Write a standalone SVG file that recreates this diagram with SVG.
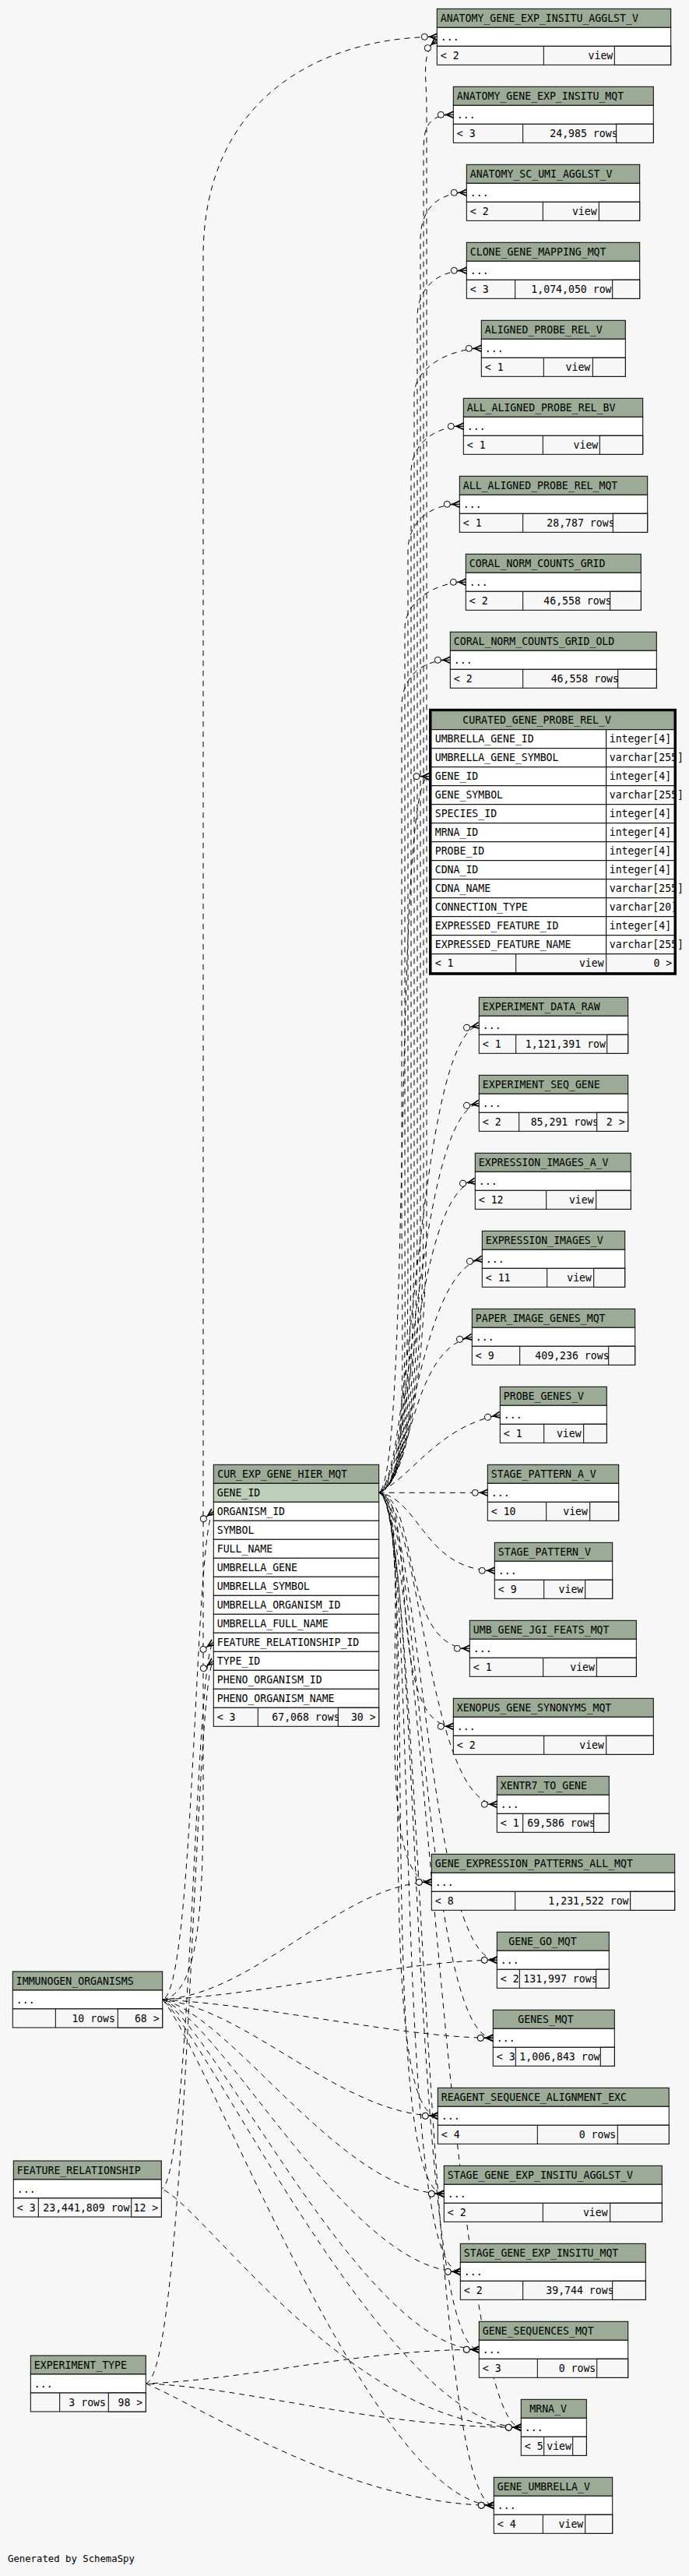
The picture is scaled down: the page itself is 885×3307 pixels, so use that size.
<svg xmlns="http://www.w3.org/2000/svg" width="885" height="3307" viewBox="0 0 885 3307">
<style>
.t{font-family:"DejaVu Sans Mono","Liberation Mono",monospace;font-size:13.2px;fill:#000}
.e{text-anchor:end}
.h{fill:#9bab96;stroke:#000;stroke-width:1}
.b{fill:#fff;stroke:#000;stroke-width:1}
.k{fill:#bed1b8;stroke:#000;stroke-width:1}
.f{fill:#f7f7f7;stroke:#000;stroke-width:1}
.l{stroke:#000;stroke-width:1}
.c path{fill:none;stroke:#000;stroke-width:1;stroke-dasharray:7,6;marker-end:url(#cf)}
.c path:nth-child(3n){stroke-dashoffset:4}
.c path:nth-child(3n+1){stroke-dashoffset:9}
</style>
<defs>
<marker id="cf" markerUnits="userSpaceOnUse" markerWidth="24" markerHeight="14" viewBox="-22 -7 24 14" refX="0" refY="0" orient="auto" overflow="visible">
<path d="M-12,0 L0,0" stroke="#000" stroke-width="1.2" fill="none"/>
<path d="M0,-5 L-11,0 L0,5 L0,3 L-7,0 L0,-3 Z" fill="#000"/>
<circle cx="-16" cy="0" r="4" fill="#f7f7f7" stroke="#000" stroke-width="1"/>
</marker>
</defs>
<rect x="0" y="0" width="885" height="3307" fill="#f7f7f7"/>

<g id="connectors" class="c">
<path d="M486.7,1916.3 C525,1905 548,1750 548,1550 L548,140 C548,95 540,70 561.3,51"/>
<path d="M486.7,1916.3 C525,1905 544,1750 544,1550 L544,207 C544,172 542.3,147.3 582.3,147.3"/>
<path d="M486.7,1916.3 C525,1905 540,1750 540,1550 L540,307 C540,272 559.3,247.3 599.3,247.3"/>
<path d="M486.7,1916.3 C525,1905 536,1750 536,1550 L536,407 C536,372 559.3,347.3 599.3,347.3"/>
<path d="M486.7,1916.3 C525,1905 532,1750 532,1550 L532,507 C532,472 578.3,447.3 618.3,447.3"/>
<path d="M486.7,1916.3 C525,1905 528,1750 528,1550 L528,607 C528,572 555.3,547.3 595.3,547.3"/>
<path d="M486.7,1916.3 C525,1905 524,1750 524,1550 L524,707 C524,672 550.3,647.3 590.3,647.3"/>
<path d="M486.7,1916.3 C525,1905 520,1750 520,1550 L520,807 C520,772 558.3,747.3 598.3,747.3"/>
<path d="M486.7,1916.3 C525,1905 516,1750 516,1550 L516,907 C516,872 538.3,847.3 578.3,847.3"/>
<path d="M486.7,1916.3 C528,1890 505,996.7 551,996.7"/>
<path d="M486.7,1916.3 C530,1895 535.3,1331.3 615.3,1316.3"/>
<path d="M486.7,1916.3 C530,1895 535.3,1431.3 615.3,1416.3"/>
<path d="M486.7,1916.3 C530,1895 530.3,1531.3 610.3,1516.3"/>
<path d="M486.7,1916.3 C530,1895 539.3,1631.3 619.3,1616.3"/>
<path d="M486.7,1916.3 C530,1895 526.3,1731.3 606.3,1716.3"/>
<path d="M486.7,1916.3 C530,1895 562.3,1831.3 642.3,1816.3"/>
<path d="M486.7,1916.3 L626.3,1916.3"/>
<path d="M486.7,1916.3 C540,1925 545.3,2016.3 635.3,2016.3"/>
<path d="M486.7,1916.3 C540,1925 513.3,2116.3 603.3,2116.3"/>
<path d="M486.7,1916.3 C540,1925 492.3,2216.3 582.3,2216.3"/>
<path d="M486.7,1916.3 C540,1925 548.3,2316.3 638.3,2316.3"/>
<path d="M486.7,1916.3 C540,1925 464.3,2416.3 554.3,2416.3"/>
<path d="M486.7,1916.3 C540,1925 548.3,2516.3 638.3,2516.3"/>
<path d="M486.7,1916.3 C540,1925 543.3,2616.3 633.3,2616.3"/>
<path d="M486.7,1916.3 C540,1925 472.3,2716.3 562.3,2716.3"/>
<path d="M486.7,1916.3 C540,1925 480.3,2816.3 570.3,2816.3"/>
<path d="M486.7,1916.3 C540,1925 501.3,2916.3 591.3,2916.3"/>
<path d="M486.7,1916.3 C540,1925 525.3,3016.3 615.3,3016.3"/>
<path d="M486.7,1916.3 C540,1925 579.3,3116.3 669.3,3116.3"/>
<path d="M486.7,1916.3 C540,1925 544.3,3216.3 634.3,3216.3"/>
<path d="M208.7,2567 C250,2560 250,1958 274.3,1940.3"/>
<path d="M208.7,2567 C255,2560 261,2450 261,2300 L261,330 C261,120 420,47.3 561.3,47.3"/>
<path d="M208.7,2567 C330,2560 440,2416.3 554.3,2416.3"/>
<path d="M208.7,2567 C350,2560 520,2516.3 638.3,2516.3"/>
<path d="M208.7,2567 C350,2575 520,2616.3 633.3,2616.3"/>
<path d="M208.7,2567 C320,2580 440,2716.3 562.3,2716.3"/>
<path d="M208.7,2567 C300,2590 440,2816.3 570.3,2816.3"/>
<path d="M208.7,2567 C290,2600 450,2916.3 591.3,2916.3"/>
<path d="M208.7,2567 C280,2610 470,3016.3 615.3,3016.3"/>
<path d="M208.7,2567 C270,2620 500,3116.3 669.3,3116.3"/>
<path d="M208.7,2567 C265,2630 480,3216.3 634.3,3216.3"/>
<path d="M207.3,2810 C245,2800 250,2125 274.3,2108.3"/>
<path d="M207.3,2810 C260,2830 450,3116.3 669.3,3116.3"/>
<path d="M187.3,3060 C240,3050 250,2150 274.3,2132.3"/>
<path d="M187.3,3060 C320,3055 460,3016.3 615.3,3016.3"/>
<path d="M187.3,3060 C320,3065 480,3116.3 669.3,3116.3"/>
<path d="M187.3,3060 C260,3090 450,3216.3 634.3,3216.3"/>
</g>

<g id="ANATOMY_GENE_EXP_INSITU_AGGLST_V">
<rect class="h" x="561.3" y="11.3" width="300.4" height="24"/><text class="t" x="565.8" y="27.8">ANATOMY_GENE_EXP_INSITU_AGGLST_V</text>
<rect class="b" x="561.3" y="35.3" width="300.4" height="24"/><text class="t" x="565.8" y="51.8">...</text>
<rect class="f" x="561.3" y="59.3" width="300.4" height="24"/><line class="l" x1="698.3" y1="59.3" x2="698.3" y2="83.3"/>
<text class="t" x="565.8" y="75.8">&lt; 2</text><text class="t e" x="787.3" y="75.8">view</text>
<rect class="f" x="789.3" y="59.3" width="72.4" height="24"/>
</g>
<g id="ANATOMY_GENE_EXP_INSITU_MQT">
<rect class="h" x="582.3" y="111.3" width="257" height="24"/><text class="t" x="586.8" y="127.8">ANATOMY_GENE_EXP_INSITU_MQT</text>
<rect class="b" x="582.3" y="135.3" width="257" height="24"/><text class="t" x="586.8" y="151.8">...</text>
<rect class="f" x="582.3" y="159.3" width="257" height="24"/><line class="l" x1="671.7" y1="159.3" x2="671.7" y2="183.3"/>
<text class="t" x="586.8" y="175.8">&lt; 3</text><text class="t e" x="793.6" y="175.8">24,985 rows</text>
<rect class="f" x="791.7" y="159.3" width="47.6" height="24"/>
</g>
<g id="ANATOMY_SC_UMI_AGGLST_V">
<rect class="h" x="599.3" y="211.3" width="222.4" height="24"/><text class="t" x="603.8" y="227.8">ANATOMY_SC_UMI_AGGLST_V</text>
<rect class="b" x="599.3" y="235.3" width="222.4" height="24"/><text class="t" x="603.8" y="251.8">...</text>
<rect class="f" x="599.3" y="259.3" width="222.4" height="24"/><line class="l" x1="697.3" y1="259.3" x2="697.3" y2="283.3"/>
<text class="t" x="603.8" y="275.8">&lt; 2</text><text class="t e" x="766.7" y="275.8">view</text>
<rect class="f" x="769.3" y="259.3" width="52.4" height="24"/>
</g>
<g id="CLONE_GENE_MAPPING_MQT">
<rect class="h" x="599.3" y="311.3" width="222.4" height="24"/><text class="t" x="603.8" y="327.8">CLONE_GENE_MAPPING_MQT</text>
<rect class="b" x="599.3" y="335.3" width="222.4" height="24"/><text class="t" x="603.8" y="351.8">...</text>
<rect class="f" x="599.3" y="359.3" width="222.4" height="24"/><line class="l" x1="661.7" y1="359.3" x2="661.7" y2="383.3"/>
<text class="t" x="603.8" y="375.8">&lt; 3</text><text class="t e" x="793.5" y="375.8">1,074,050 rows</text>
<rect class="f" x="786.7" y="359.3" width="35" height="24"/>
</g>
<g id="ALIGNED_PROBE_REL_V">
<rect class="h" x="618.3" y="411.3" width="185" height="24"/><text class="t" x="622.8" y="427.8">ALIGNED_PROBE_REL_V</text>
<rect class="b" x="618.3" y="435.3" width="185" height="24"/><text class="t" x="622.8" y="451.8">...</text>
<rect class="f" x="618.3" y="459.3" width="185" height="24"/><line class="l" x1="698.3" y1="459.3" x2="698.3" y2="483.3"/>
<text class="t" x="622.8" y="475.8">&lt; 1</text><text class="t e" x="758.3" y="475.8">view</text>
<rect class="f" x="761.3" y="459.3" width="42" height="24"/>
</g>
<g id="ALL_ALIGNED_PROBE_REL_BV">
<rect class="h" x="595.3" y="511.3" width="230.4" height="24"/><text class="t" x="599.8" y="527.8">ALL_ALIGNED_PROBE_REL_BV</text>
<rect class="b" x="595.3" y="535.3" width="230.4" height="24"/><text class="t" x="599.8" y="551.8">...</text>
<rect class="f" x="595.3" y="559.3" width="230.4" height="24"/><line class="l" x1="697.3" y1="559.3" x2="697.3" y2="583.3"/>
<text class="t" x="599.8" y="575.8">&lt; 1</text><text class="t e" x="768.3" y="575.8">view</text>
<rect class="f" x="770.3" y="559.3" width="55.4" height="24"/>
</g>
<g id="ALL_ALIGNED_PROBE_REL_MQT">
<rect class="h" x="590.3" y="611.3" width="241.4" height="24"/><text class="t" x="594.8" y="627.8">ALL_ALIGNED_PROBE_REL_MQT</text>
<rect class="b" x="590.3" y="635.3" width="241.4" height="24"/><text class="t" x="594.8" y="651.8">...</text>
<rect class="f" x="590.3" y="659.3" width="241.4" height="24"/><line class="l" x1="671.7" y1="659.3" x2="671.7" y2="683.3"/>
<text class="t" x="594.8" y="675.8">&lt; 1</text><text class="t e" x="789.6" y="675.8">28,787 rows</text>
<rect class="f" x="787.3" y="659.3" width="44.4" height="24"/>
</g>
<g id="CORAL_NORM_COUNTS_GRID">
<rect class="h" x="598.3" y="711.3" width="225" height="24"/><text class="t" x="602.8" y="727.8">CORAL_NORM_COUNTS_GRID</text>
<rect class="b" x="598.3" y="735.3" width="225" height="24"/><text class="t" x="602.8" y="751.8">...</text>
<rect class="f" x="598.3" y="759.3" width="225" height="24"/><line class="l" x1="671.7" y1="759.3" x2="671.7" y2="783.3"/>
<text class="t" x="602.8" y="775.8">&lt; 2</text><text class="t e" x="785.6" y="775.8">46,558 rows</text>
<rect class="f" x="783.7" y="759.3" width="39.6" height="24"/>
</g>
<g id="CORAL_NORM_COUNTS_GRID_OLD">
<rect class="h" x="578.3" y="811.3" width="265" height="24"/><text class="t" x="582.8" y="827.8">CORAL_NORM_COUNTS_GRID_OLD</text>
<rect class="b" x="578.3" y="835.3" width="265" height="24"/><text class="t" x="582.8" y="851.8">...</text>
<rect class="f" x="578.3" y="859.3" width="265" height="24"/><line class="l" x1="671.7" y1="859.3" x2="671.7" y2="883.3"/>
<text class="t" x="582.8" y="875.8">&lt; 2</text><text class="t e" x="795" y="875.8">46,558 rows</text>
<rect class="f" x="793.7" y="859.3" width="49.6" height="24"/>
</g>

<g id="CURATED_GENE_PROBE_REL_V">
<rect class="h" x="554" y="912.7" width="312" height="24"/><text class="t" x="594.3" y="929.2">CURATED_GENE_PROBE_REL_V</text>
<rect class="b" x="554" y="936.7" width="224.7" height="24"/><rect class="b" x="778.7" y="936.7" width="87.3" height="24"/>
<rect class="b" x="554" y="960.7" width="224.7" height="24"/><rect class="b" x="778.7" y="960.7" width="87.3" height="24"/>
<rect class="b" x="554" y="984.7" width="224.7" height="24"/><rect class="b" x="778.7" y="984.7" width="87.3" height="24"/>
<rect class="b" x="554" y="1008.7" width="224.7" height="24"/><rect class="b" x="778.7" y="1008.7" width="87.3" height="24"/>
<rect class="b" x="554" y="1032.7" width="224.7" height="24"/><rect class="b" x="778.7" y="1032.7" width="87.3" height="24"/>
<rect class="b" x="554" y="1056.7" width="224.7" height="24"/><rect class="b" x="778.7" y="1056.7" width="87.3" height="24"/>
<rect class="b" x="554" y="1080.7" width="224.7" height="24"/><rect class="b" x="778.7" y="1080.7" width="87.3" height="24"/>
<rect class="b" x="554" y="1104.7" width="224.7" height="24"/><rect class="b" x="778.7" y="1104.7" width="87.3" height="24"/>
<rect class="b" x="554" y="1128.7" width="224.7" height="24"/><rect class="b" x="778.7" y="1128.7" width="87.3" height="24"/>
<rect class="b" x="554" y="1152.7" width="224.7" height="24"/><rect class="b" x="778.7" y="1152.7" width="87.3" height="24"/>
<rect class="b" x="554" y="1176.7" width="224.7" height="24"/><rect class="b" x="778.7" y="1176.7" width="87.3" height="24"/>
<rect class="b" x="554" y="1200.7" width="224.7" height="24"/><rect class="b" x="778.7" y="1200.7" width="87.3" height="24"/>
<text class="t" x="558.7" y="953.2">UMBRELLA_GENE_ID</text><text class="t" x="782.7" y="953.2">integer[4]</text>
<text class="t" x="558.7" y="977.2">UMBRELLA_GENE_SYMBOL</text><text class="t" x="782.7" y="977.2">varchar[255]</text>
<text class="t" x="558.7" y="1001.2">GENE_ID</text><text class="t" x="782.7" y="1001.2">integer[4]</text>
<text class="t" x="558.7" y="1025.2">GENE_SYMBOL</text><text class="t" x="782.7" y="1025.2">varchar[255]</text>
<text class="t" x="558.7" y="1049.2">SPECIES_ID</text><text class="t" x="782.7" y="1049.2">integer[4]</text>
<text class="t" x="558.7" y="1073.2">MRNA_ID</text><text class="t" x="782.7" y="1073.2">integer[4]</text>
<text class="t" x="558.7" y="1097.2">PROBE_ID</text><text class="t" x="782.7" y="1097.2">integer[4]</text>
<text class="t" x="558.7" y="1121.2">CDNA_ID</text><text class="t" x="782.7" y="1121.2">integer[4]</text>
<text class="t" x="558.7" y="1145.2">CDNA_NAME</text><text class="t" x="782.7" y="1145.2">varchar[255]</text>
<text class="t" x="558.7" y="1169.2">CONNECTION_TYPE</text><text class="t" x="782.7" y="1169.2">varchar[20]</text>
<text class="t" x="558.7" y="1193.2">EXPRESSED_FEATURE_ID</text><text class="t" x="782.7" y="1193.2">integer[4]</text>
<text class="t" x="558.7" y="1217.2">EXPRESSED_FEATURE_NAME</text><text class="t" x="782.7" y="1217.2">varchar[255]</text>
<rect class="f" x="554" y="1224.7" width="312" height="24"/>
<line class="l" x1="662.7" y1="1224.7" x2="662.7" y2="1248.7"/><line class="l" x1="778.7" y1="1224.7" x2="778.7" y2="1248.7"/>
<text class="t" x="558.7" y="1241.2">&lt; 1</text><text class="t e" x="775.7" y="1241.2">view</text><text class="t e" x="863.3" y="1241.2">0 &gt;</text>
<rect x="552.5" y="911.3" width="315" height="339" fill="none" stroke="#000" stroke-width="3"/>
</g>

<g id="EXPERIMENT_DATA_RAW">
<rect class="h" x="615.3" y="1280.3" width="191.4" height="24"/><text class="t" x="619.8" y="1296.8">EXPERIMENT_DATA_RAW</text>
<rect class="b" x="615.3" y="1304.3" width="191.4" height="24"/><text class="t" x="619.8" y="1320.8">...</text>
<rect class="f" x="615.3" y="1328.3" width="191.4" height="24"/><line class="l" x1="662.7" y1="1328.3" x2="662.7" y2="1352.3"/>
<text class="t" x="619.8" y="1344.8">&lt; 1</text><text class="t e" x="785.9" y="1344.8">1,121,391 rows</text>
<rect class="f" x="779.7" y="1328.3" width="27" height="24"/>
</g>
<g id="EXPERIMENT_SEQ_GENE">
<rect class="h" x="615.3" y="1380.3" width="191.4" height="24"/><text class="t" x="619.8" y="1396.8">EXPERIMENT_SEQ_GENE</text>
<rect class="b" x="615.3" y="1404.3" width="191.4" height="24"/><text class="t" x="619.8" y="1420.8">...</text>
<rect class="f" x="615.3" y="1428.3" width="191.4" height="24"/><line class="l" x1="666.7" y1="1428.3" x2="666.7" y2="1452.3"/>
<text class="t" x="619.8" y="1444.8">&lt; 2</text><text class="t e" x="769" y="1444.8">85,291 rows</text>
<rect class="f" x="766.7" y="1428.3" width="40" height="24"/><text class="t e" x="802.7" y="1444.8">2 &gt;</text>
</g>
<g id="EXPRESSION_IMAGES_A_V">
<rect class="h" x="610.3" y="1480.3" width="200" height="24"/><text class="t" x="614.8" y="1496.8">EXPRESSION_IMAGES_A_V</text>
<rect class="b" x="610.3" y="1504.3" width="200" height="24"/><text class="t" x="614.8" y="1520.8">...</text>
<rect class="f" x="610.3" y="1528.3" width="200" height="24"/><line class="l" x1="701.7" y1="1528.3" x2="701.7" y2="1552.3"/>
<text class="t" x="614.8" y="1544.8">&lt; 12</text><text class="t e" x="762.7" y="1544.8">view</text>
<rect class="f" x="765.7" y="1528.3" width="44.6" height="24"/>
</g>
<g id="EXPRESSION_IMAGES_V">
<rect class="h" x="619.3" y="1580.3" width="183.4" height="24"/><text class="t" x="623.8" y="1596.8">EXPRESSION_IMAGES_V</text>
<rect class="b" x="619.3" y="1604.3" width="183.4" height="24"/><text class="t" x="623.8" y="1620.8">...</text>
<rect class="f" x="619.3" y="1628.3" width="183.4" height="24"/><line class="l" x1="702.7" y1="1628.3" x2="702.7" y2="1652.3"/>
<text class="t" x="623.8" y="1644.8">&lt; 11</text><text class="t e" x="760" y="1644.8">view</text>
<rect class="f" x="762.7" y="1628.3" width="40" height="24"/>
</g>
<g id="PAPER_IMAGE_GENES_MQT">
<rect class="h" x="606.3" y="1680.3" width="209.4" height="24"/><text class="t" x="610.8" y="1696.8">PAPER_IMAGE_GENES_MQT</text>
<rect class="b" x="606.3" y="1704.3" width="209.4" height="24"/><text class="t" x="610.8" y="1720.8">...</text>
<rect class="f" x="606.3" y="1728.3" width="209.4" height="24"/><line class="l" x1="667.7" y1="1728.3" x2="667.7" y2="1752.3"/>
<text class="t" x="610.8" y="1744.8">&lt; 9</text><text class="t e" x="782.6" y="1744.8">409,236 rows</text>
<rect class="f" x="781.7" y="1728.3" width="34" height="24"/>
</g>
<g id="PROBE_GENES_V">
<rect class="h" x="642.3" y="1780.3" width="137" height="24"/><text class="t" x="646.8" y="1796.8">PROBE_GENES_V</text>
<rect class="b" x="642.3" y="1804.3" width="137" height="24"/><text class="t" x="646.8" y="1820.8">...</text>
<rect class="f" x="642.3" y="1828.3" width="137" height="24"/><line class="l" x1="698.7" y1="1828.3" x2="698.7" y2="1852.3"/>
<text class="t" x="646.8" y="1844.8">&lt; 1</text><text class="t e" x="746.7" y="1844.8">view</text>
<rect class="f" x="749.7" y="1828.3" width="29.6" height="24"/>
</g>
<g id="STAGE_PATTERN_A_V">
<rect class="h" x="626.3" y="1880.3" width="168.4" height="24"/><text class="t" x="630.8" y="1896.8">STAGE_PATTERN_A_V</text>
<rect class="b" x="626.3" y="1904.3" width="168.4" height="24"/><text class="t" x="630.8" y="1920.8">...</text>
<rect class="f" x="626.3" y="1928.3" width="168.4" height="24"/><line class="l" x1="701.7" y1="1928.3" x2="701.7" y2="1952.3"/>
<text class="t" x="630.8" y="1944.8">&lt; 10</text><text class="t e" x="755" y="1944.8">view</text>
<rect class="f" x="757.7" y="1928.3" width="37" height="24"/>
</g>
<g id="STAGE_PATTERN_V">
<rect class="h" x="635.3" y="1980.3" width="151.4" height="24"/><text class="t" x="639.8" y="1996.8">STAGE_PATTERN_V</text>
<rect class="b" x="635.3" y="2004.3" width="151.4" height="24"/><text class="t" x="639.8" y="2020.8">...</text>
<rect class="f" x="635.3" y="2028.3" width="151.4" height="24"/><line class="l" x1="698.7" y1="2028.3" x2="698.7" y2="2052.3"/>
<text class="t" x="639.8" y="2044.8">&lt; 9</text><text class="t e" x="749.3" y="2044.8">view</text>
<rect class="f" x="751.7" y="2028.3" width="35" height="24"/>
</g>
<g id="UMB_GENE_JGI_FEATS_MQT">
<rect class="h" x="603.3" y="2080.3" width="214" height="24"/><text class="t" x="607.8" y="2096.8">UMB_GENE_JGI_FEATS_MQT</text>
<rect class="b" x="603.3" y="2104.3" width="214" height="24"/><text class="t" x="607.8" y="2120.8">...</text>
<rect class="f" x="603.3" y="2128.3" width="214" height="24"/><line class="l" x1="697.7" y1="2128.3" x2="697.7" y2="2152.3"/>
<text class="t" x="607.8" y="2144.8">&lt; 1</text><text class="t e" x="764" y="2144.8">view</text>
<rect class="f" x="766.3" y="2128.3" width="51" height="24"/>
</g>
<g id="XENOPUS_GENE_SYNONYMS_MQT">
<rect class="h" x="582.3" y="2180.3" width="257" height="24"/><text class="t" x="586.8" y="2196.8">XENOPUS_GENE_SYNONYMS_MQT</text>
<rect class="b" x="582.3" y="2204.3" width="257" height="24"/><text class="t" x="586.8" y="2220.8">...</text>
<rect class="f" x="582.3" y="2228.3" width="257" height="24"/><line class="l" x1="698.7" y1="2228.3" x2="698.7" y2="2252.3"/>
<text class="t" x="586.8" y="2244.8">&lt; 2</text><text class="t e" x="776" y="2244.8">view</text>
<rect class="f" x="778.7" y="2228.3" width="60.6" height="24"/>
</g>
<g id="XENTR7_TO_GENE">
<rect class="h" x="638.3" y="2280.3" width="144" height="24"/><text class="t" x="642.8" y="2296.8">XENTR7_TO_GENE</text>
<rect class="b" x="638.3" y="2304.3" width="144" height="24"/><text class="t" x="642.8" y="2320.8">...</text>
<rect class="f" x="638.3" y="2328.3" width="144" height="24"/><line class="l" x1="671.7" y1="2328.3" x2="671.7" y2="2352.3"/>
<text class="t" x="642.8" y="2344.8">&lt; 1</text><text class="t e" x="764.6" y="2344.8">69,586 rows</text>
<rect class="f" x="762.7" y="2328.3" width="19.6" height="24"/>
</g>
<g id="GENE_EXPRESSION_PATTERNS_ALL_MQT">
<rect class="h" x="554.3" y="2380.3" width="312.4" height="24"/><text class="t" x="558.8" y="2396.8">GENE_EXPRESSION_PATTERNS_ALL_MQT</text>
<rect class="b" x="554.3" y="2404.3" width="312.4" height="24"/><text class="t" x="558.8" y="2420.8">...</text>
<rect class="f" x="554.3" y="2428.3" width="312.4" height="24"/><line class="l" x1="661.7" y1="2428.3" x2="661.7" y2="2452.3"/>
<text class="t" x="558.8" y="2444.8">&lt; 8</text><text class="t e" x="815.5" y="2444.8">1,231,522 rows</text>
<rect class="f" x="809.7" y="2428.3" width="57" height="24"/>
</g>
<g id="GENE_GO_MQT">
<rect class="h" x="638.3" y="2480.3" width="144" height="24"/><text class="t" x="653.3" y="2496.8">GENE_GO_MQT</text>
<rect class="b" x="638.3" y="2504.3" width="144" height="24"/><text class="t" x="642.8" y="2520.8">...</text>
<rect class="f" x="638.3" y="2528.3" width="144" height="24"/><line class="l" x1="667.3" y1="2528.3" x2="667.3" y2="2552.3"/>
<text class="t" x="642.8" y="2544.8">&lt; 2</text><text class="t e" x="767.6" y="2544.8">131,997 rows</text>
<rect class="f" x="765.7" y="2528.3" width="16.6" height="24"/>
</g>
<g id="GENES_MQT">
<rect class="h" x="633.3" y="2580.3" width="156" height="24"/><text class="t" x="665.3" y="2596.8">GENES_MQT</text>
<rect class="b" x="633.3" y="2604.3" width="156" height="24"/><text class="t" x="637.8" y="2620.8">...</text>
<rect class="f" x="633.3" y="2628.3" width="156" height="24"/><line class="l" x1="662.3" y1="2628.3" x2="662.3" y2="2652.3"/>
<text class="t" x="637.8" y="2644.8">&lt; 3</text><text class="t e" x="778.5" y="2644.8">1,006,843 rows</text>
<rect class="f" x="771.3" y="2628.3" width="18" height="24"/>
</g>
<g id="REAGENT_SEQUENCE_ALIGNMENT_EXC">
<rect class="h" x="562.3" y="2680.3" width="297" height="24"/><text class="t" x="566.8" y="2696.8">REAGENT_SEQUENCE_ALIGNMENT_EXC</text>
<rect class="b" x="562.3" y="2704.3" width="297" height="24"/><text class="t" x="566.8" y="2720.8">...</text>
<rect class="f" x="562.3" y="2728.3" width="297" height="24"/><line class="l" x1="690.3" y1="2728.3" x2="690.3" y2="2752.3"/>
<text class="t" x="566.8" y="2744.8">&lt; 4</text><text class="t e" x="791.3" y="2744.8">0 rows</text>
<rect class="f" x="793.3" y="2728.3" width="66" height="24"/>
</g>
<g id="STAGE_GENE_EXP_INSITU_AGGLST_V">
<rect class="h" x="570.3" y="2780.3" width="280" height="24"/><text class="t" x="574.8" y="2796.8">STAGE_GENE_EXP_INSITU_AGGLST_V</text>
<rect class="b" x="570.3" y="2804.3" width="280" height="24"/><text class="t" x="574.8" y="2820.8">...</text>
<rect class="f" x="570.3" y="2828.3" width="280" height="24"/><line class="l" x1="697.3" y1="2828.3" x2="697.3" y2="2852.3"/>
<text class="t" x="574.8" y="2844.8">&lt; 2</text><text class="t e" x="780.7" y="2844.8">view</text>
<rect class="f" x="783.7" y="2828.3" width="66.6" height="24"/>
</g>
<g id="STAGE_GENE_EXP_INSITU_MQT">
<rect class="h" x="591.3" y="2880.3" width="238" height="24"/><text class="t" x="595.8" y="2896.8">STAGE_GENE_EXP_INSITU_MQT</text>
<rect class="b" x="591.3" y="2904.3" width="238" height="24"/><text class="t" x="595.8" y="2920.8">...</text>
<rect class="f" x="591.3" y="2928.3" width="238" height="24"/><line class="l" x1="671.7" y1="2928.3" x2="671.7" y2="2952.3"/>
<text class="t" x="595.8" y="2944.8">&lt; 2</text><text class="t e" x="788.6" y="2944.8">39,744 rows</text>
<rect class="f" x="786.7" y="2928.3" width="42.6" height="24"/>
</g>
<g id="GENE_SEQUENCES_MQT">
<rect class="h" x="615.3" y="2980.3" width="191.4" height="24"/><text class="t" x="619.8" y="2996.8">GENE_SEQUENCES_MQT</text>
<rect class="b" x="615.3" y="3004.3" width="191.4" height="24"/><text class="t" x="619.8" y="3020.8">...</text>
<rect class="f" x="615.3" y="3028.3" width="191.4" height="24"/><line class="l" x1="690.3" y1="3028.3" x2="690.3" y2="3052.3"/>
<text class="t" x="619.8" y="3044.8">&lt; 3</text><text class="t e" x="765.3" y="3044.8">0 rows</text>
<rect class="f" x="766.7" y="3028.3" width="40" height="24"/>
</g>
<g id="MRNA_V">
<rect class="h" x="669.3" y="3080.3" width="84" height="24"/><text class="t" x="680.3" y="3096.8">MRNA_V</text>
<rect class="b" x="669.3" y="3104.3" width="84" height="24"/><text class="t" x="673.8" y="3120.8">...</text>
<rect class="f" x="669.3" y="3128.3" width="84" height="24"/><line class="l" x1="698.7" y1="3128.3" x2="698.7" y2="3152.3"/>
<text class="t" x="673.8" y="3144.8">&lt; 5</text><text class="t e" x="734" y="3144.8">view</text>
<rect class="f" x="735.7" y="3128.3" width="17.6" height="24"/>
</g>
<g id="GENE_UMBRELLA_V">
<rect class="h" x="634.3" y="3180.3" width="152.4" height="24"/><text class="t" x="638.8" y="3196.8">GENE_UMBRELLA_V</text>
<rect class="b" x="634.3" y="3204.3" width="152.4" height="24"/><text class="t" x="638.8" y="3220.8">...</text>
<rect class="f" x="634.3" y="3228.3" width="152.4" height="24"/><line class="l" x1="697.3" y1="3228.3" x2="697.3" y2="3252.3"/>
<text class="t" x="638.8" y="3244.8">&lt; 4</text><text class="t e" x="749.3" y="3244.8">view</text>
<rect class="f" x="751.7" y="3228.3" width="35" height="24"/>
</g>

<g id="CUR_EXP_GENE_HIER_MQT">
<rect class="h" x="274.3" y="1880.3" width="212.4" height="24"/><text class="t" x="279.3" y="1896.8">CUR_EXP_GENE_HIER_MQT</text>
<rect class="k" x="274.3" y="1904.3" width="212.4" height="24"/><text class="t" x="278.7" y="1920.8">GENE_ID</text>
<rect class="b" x="274.3" y="1928.3" width="212.4" height="24"/><text class="t" x="278.7" y="1944.8">ORGANISM_ID</text>
<rect class="b" x="274.3" y="1952.3" width="212.4" height="24"/><text class="t" x="278.7" y="1968.8">SYMBOL</text>
<rect class="b" x="274.3" y="1976.3" width="212.4" height="24"/><text class="t" x="278.7" y="1992.8">FULL_NAME</text>
<rect class="b" x="274.3" y="2000.3" width="212.4" height="24"/><text class="t" x="278.7" y="2016.8">UMBRELLA_GENE</text>
<rect class="b" x="274.3" y="2024.3" width="212.4" height="24"/><text class="t" x="278.7" y="2040.8">UMBRELLA_SYMBOL</text>
<rect class="b" x="274.3" y="2048.3" width="212.4" height="24"/><text class="t" x="278.7" y="2064.8">UMBRELLA_ORGANISM_ID</text>
<rect class="b" x="274.3" y="2072.3" width="212.4" height="24"/><text class="t" x="278.7" y="2088.8">UMBRELLA_FULL_NAME</text>
<rect class="b" x="274.3" y="2096.3" width="212.4" height="24"/><text class="t" x="278.7" y="2112.8">FEATURE_RELATIONSHIP_ID</text>
<rect class="b" x="274.3" y="2120.3" width="212.4" height="24"/><text class="t" x="278.7" y="2136.8">TYPE_ID</text>
<rect class="b" x="274.3" y="2144.3" width="212.4" height="24"/><text class="t" x="278.7" y="2160.8">PHENO_ORGANISM_ID</text>
<rect class="b" x="274.3" y="2168.3" width="212.4" height="24"/><text class="t" x="278.7" y="2184.8">PHENO_ORGANISM_NAME</text>
<rect class="f" x="274.3" y="2192.3" width="212.4" height="24"/><line class="l" x1="331.3" y1="2192.3" x2="331.3" y2="2216.3"/>
<text class="t" x="278.7" y="2208.8">&lt; 3</text><text class="t e" x="436.6" y="2208.8">67,068 rows</text>
<rect class="f" x="434.3" y="2192.3" width="52.4" height="24"/><text class="t e" x="482.7" y="2208.8">30 &gt;</text>
</g>

<g id="IMMUNOGEN_ORGANISMS">
<rect class="h" x="16.3" y="2531" width="192.4" height="24"/><text class="t" x="20.8" y="2547.5">IMMUNOGEN_ORGANISMS</text>
<rect class="b" x="16.3" y="2555" width="192.4" height="24"/><text class="t" x="20.8" y="2571.5">...</text>
<rect class="f" x="16.3" y="2579" width="192.4" height="24"/><line class="l" x1="71.3" y1="2579" x2="71.3" y2="2603"/>
<text class="t e" x="148" y="2595.5">10 rows</text>
<rect class="f" x="151.3" y="2579" width="57.4" height="24"/><text class="t e" x="204.7" y="2595.5">68 &gt;</text>
</g>
<g id="FEATURE_RELATIONSHIP">
<rect class="h" x="17.3" y="2774" width="190" height="24"/><text class="t" x="21.8" y="2790.5">FEATURE_RELATIONSHIP</text>
<rect class="b" x="17.3" y="2798" width="190" height="24"/><text class="t" x="21.8" y="2814.5">...</text>
<rect class="f" x="17.3" y="2822" width="190" height="24"/><line class="l" x1="49.3" y1="2822" x2="49.3" y2="2846"/>
<text class="t" x="21.8" y="2838.5">&lt; 3</text><text class="t e" x="174.4" y="2838.5">23,441,809 rows</text>
<rect class="f" x="168.7" y="2822" width="38.6" height="24"/><text class="t e" x="203.3" y="2838.5">12 &gt;</text>
</g>
<g id="EXPERIMENT_TYPE">
<rect class="h" x="39.3" y="3024" width="148" height="24"/><text class="t" x="43.8" y="3040.5">EXPERIMENT_TYPE</text>
<rect class="b" x="39.3" y="3048" width="148" height="24"/><text class="t" x="43.8" y="3064.5">...</text>
<rect class="f" x="39.3" y="3072" width="148" height="24"/><line class="l" x1="76.7" y1="3072" x2="76.7" y2="3096"/>
<text class="t e" x="136" y="3088.5">3 rows</text>
<rect class="f" x="139.3" y="3072" width="48" height="24"/><text class="t e" x="183.3" y="3088.5">98 &gt;</text>
</g>

<text class="t" x="10" y="3289" style="font-size:12.3px">Generated by SchemaSpy</text>
</svg>
